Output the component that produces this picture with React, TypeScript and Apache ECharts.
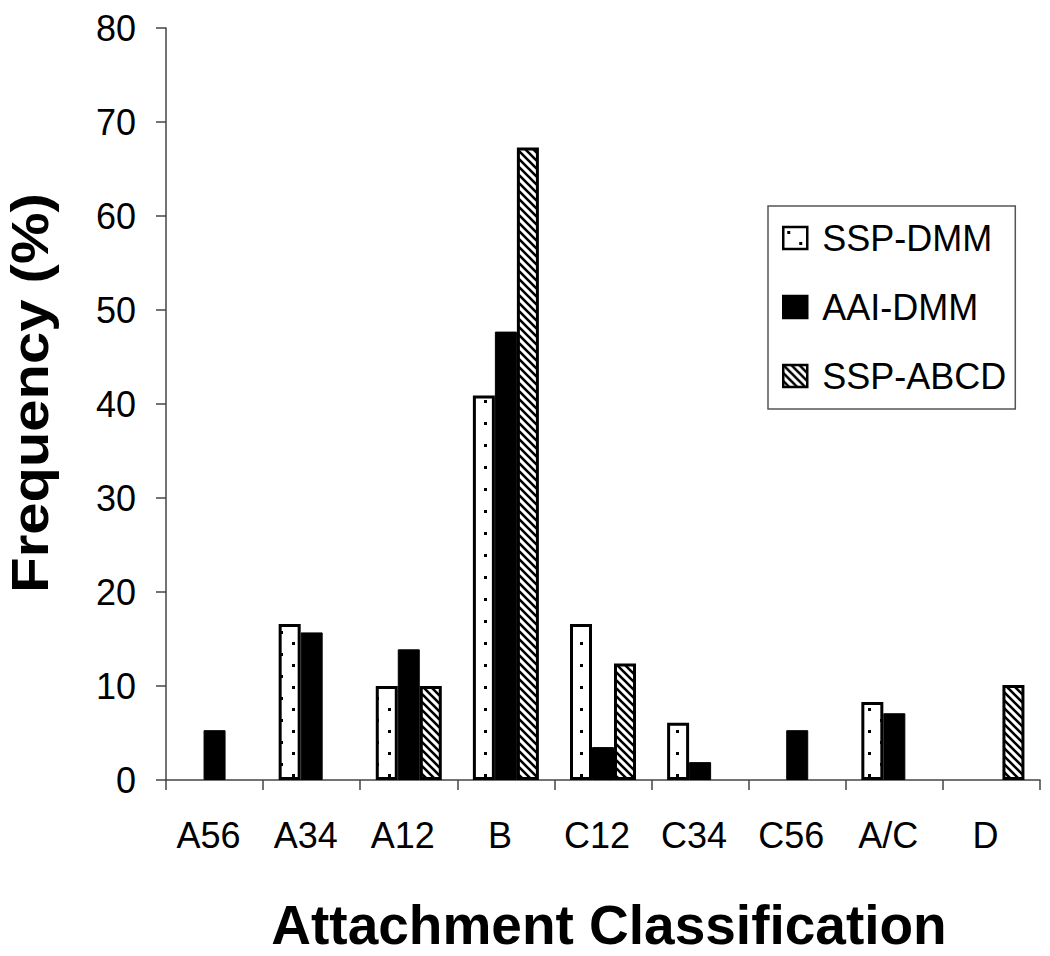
import React, { useEffect, useRef } from 'react';
import * as echarts from 'echarts';

const categories = ['A56', 'A34', 'A12', 'B', 'C12', 'C34', 'C56', 'A/C', 'D'];
const seriesNames = ['SSP-DMM', 'AAI-DMM', 'SSP-ABCD'];
const sspDmm = [null, 16.6, 10.0, 40.9, 16.6, 6.1, null, 8.3, null];
const aaiDmm = [5.3, 15.7, 13.9, 47.7, 3.5, 1.9, 5.3, 7.1, null];
const sspAbcd = [null, null, 10.0, 67.3, 12.4, null, null, null, 10.1];
const yMin = 0;
const yMax = 80;
const yInterval = 10;

const FONT = '"Liberation Sans", Arial, Helvetica, sans-serif';

function dotPattern() {
  const w = 24, h = 22;
  const c = document.createElement('canvas');
  c.width = w; c.height = h;
  const g = c.getContext('2d')!;
  g.fillStyle = '#fff';
  g.fillRect(0, 0, w, h);
  g.fillStyle = '#000';
  g.fillRect(4, 4, 3, 3);
  g.fillRect(16, 15, 3, 3);
  return { image: c.toDataURL(), repeat: 'repeat', imageWidth: w, imageHeight: h };
}

function stripePattern() {
  const s = 8;
  const c = document.createElement('canvas');
  c.width = s; c.height = s;
  const g = c.getContext('2d')!;
  g.fillStyle = '#fff';
  g.fillRect(0, 0, s, s);
  g.strokeStyle = '#000';
  g.lineWidth = 2.6;
  g.beginPath();
  g.moveTo(-2, -2); g.lineTo(s + 2, s + 2);
  g.moveTo(-2, s - 2); g.lineTo(2, s + 2);
  g.moveTo(s - 2, -2); g.lineTo(s + 2, 2);
  g.stroke();
  return { image: c.toDataURL(), repeat: 'repeat', imageWidth: s, imageHeight: s };
}

export default function App() {
  const ref = useRef<HTMLDivElement>(null);
  useEffect(() => {
    if (!ref.current) return;
    const prevMargin = document.body.style.margin;
    const prevOverflow = document.body.style.overflow;
    document.body.style.margin = '0';
    document.body.style.overflow = 'hidden';
    const chart = echarts.init(ref.current, null, { renderer: 'svg' });
    const dots = dotPattern();
    const stripes = stripePattern();
    const common = {
      type: 'bar',
      barWidth: 22,
      barGap: '0%',
    };
    chart.setOption({
      animation: false,
      backgroundColor: '#fff',
      textStyle: { fontFamily: FONT },
      grid: { left: 166, right: 10, top: 28, bottom: 176, containLabel: false },
      legend: {
        orient: 'vertical',
        left: 768,
        top: 206,
        padding: [14, 9, 15, 14],
        itemGap: 33,
        itemWidth: 24,
        itemHeight: 22,
        icon: 'rect',
        borderColor: '#555',
        borderWidth: 1.5,
        backgroundColor: '#fff',
        itemStyle: { borderWidth: 2.5, borderColor: '#000' },
        textStyle: { fontSize: 36, color: '#000', fontFamily: FONT, lineHeight: 36, padding: [0, 0, 0, 10] },
        data: seriesNames,
      },
      xAxis: {
        type: 'category',
        data: categories,
        axisLine: { lineStyle: { color: '#444', width: 1.5 } },
        axisTick: { show: true, alignWithLabel: false, length: 10, inside: false, lineStyle: { color: '#444', width: 1.5 } },
        axisLabel: { fontSize: 36, color: '#000', margin: 37, fontFamily: FONT, padding: [0, 12, 0, 0] },
        splitLine: { show: false },
      },
      yAxis: {
        type: 'value',
        min: yMin,
        max: yMax,
        interval: yInterval,
        axisLine: { show: true, lineStyle: { color: '#444', width: 1.5 } },
        axisTick: { show: true, length: 10, inside: false, lineStyle: { color: '#444', width: 1.5 } },
        axisLabel: { fontSize: 36, color: '#000', margin: 30, fontFamily: FONT },
        splitLine: { show: false },
      },
      graphic: [
        {
          type: 'text',
          x: 30,
          y: 393,
          rotation: Math.PI / 2,
          scaleY: 0.9,
          style: {
            text: 'Frequency (%)',
            font: `bold 58px ${FONT}`,
            fill: '#000',
            textAlign: 'center',
            textVerticalAlign: 'middle',
            align: 'center',
            verticalAlign: 'middle',
          },
        },
        {
          type: 'text',
          x: 609,
          y: 925,
          style: {
            text: 'Attachment Classification',
            font: `bold 55px ${FONT}`,
            fill: '#000',
            textAlign: 'center',
            textVerticalAlign: 'middle',
            align: 'center',
            verticalAlign: 'middle',
          },
        },
      ],
      series: [
        {
          ...common,
          name: seriesNames[0],
          data: sspDmm,
          itemStyle: { color: dots, borderColor: '#000', borderWidth: 3 },
        },
        {
          ...common,
          name: seriesNames[1],
          data: aaiDmm,
          itemStyle: { color: '#000', borderColor: '#000', borderWidth: 1 },
        },
        {
          ...common,
          name: seriesNames[2],
          data: sspAbcd,
          itemStyle: { color: stripes, borderColor: '#000', borderWidth: 3 },
        },
      ],
    });
    return () => {
      chart.dispose();
      document.body.style.margin = prevMargin;
      document.body.style.overflow = prevOverflow;
    };
  }, []);
  return <div ref={ref} style={{ width: 1050, height: 956 }} />;
}
